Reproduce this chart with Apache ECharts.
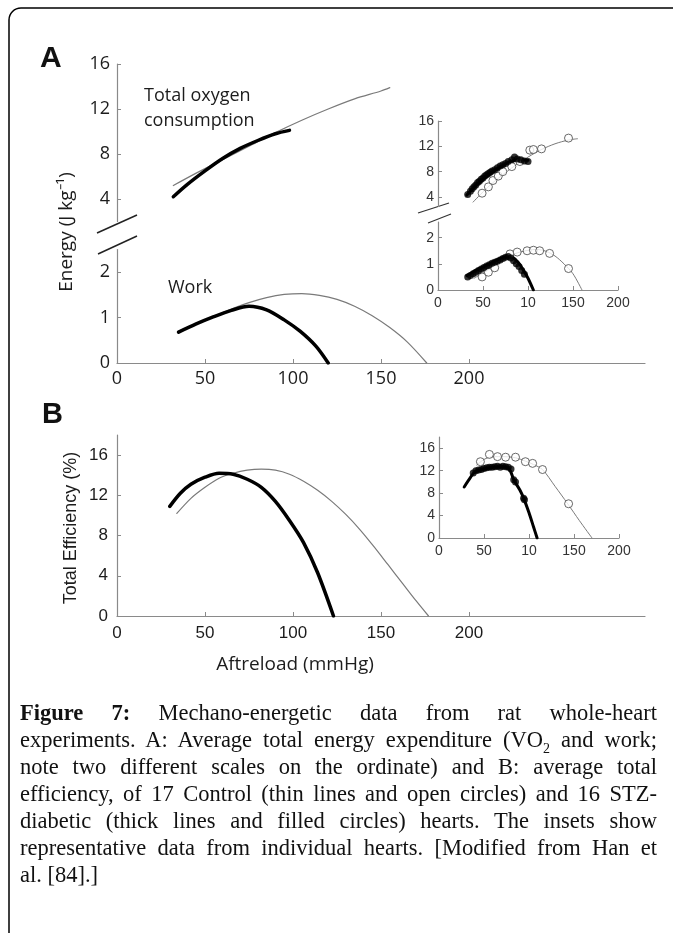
<!DOCTYPE html>
<html><head><meta charset="utf-8">
<script src="https://cdn.jsdelivr.net/npm/echarts@6/dist/echarts.min.js"></script>
<style>
html,body{margin:0;padding:0;background:#fff;}
#chart{position:absolute;left:0;top:0;width:673px;height:933px;}
#cap{position:absolute;left:20px;width:637px;top:699px;font-family:"Liberation Serif","Times New Roman",serif;font-size:22.5px;line-height:27px;color:#111;}
#cap div{white-space:nowrap;text-align:justify;text-align-last:justify;}
#cap div.last{text-align-last:left;}
</style></head>
<body>
<div id="chart"></div>
<div id="cap">
<div><b>Figure 7:</b> Mechano-energetic data from rat whole-heart</div>
<div>experiments. A: Average total energy expenditure (VO<sub style="font-size:14px;line-height:0">2</sub> and work;</div>
<div>note two different scales on the ordinate) and B: average total</div>
<div>efficiency, of 17 Control (thin lines and open circles) and 16 STZ-</div>
<div>diabetic (thick lines and filled circles) hearts. The insets show</div>
<div>representative data from individual hearts. [Modified from Han et</div>
<div class="last">al. [84].]</div>
</div>
<script>
// ---------- data (x = afterload mmHg) ----------
const xTicks = [0, 50, 100, 150, 200];
const energyUpperTicks = [4, 8, 12, 16];
const energyLowerTicks = [0, 1, 2];
const effTicks = [0, 4, 8, 12, 16];

// Panel A main: total oxygen consumption
const vo2Control = [[32,5.2],[45,6.3],[60,7.5],[75,8.7],[90,9.9],[105,11.0],[120,12.0],[135,12.9],[150,13.6],[155,13.9]];
const vo2Diabetic = [[32,4.2],[40,5.3],[50,6.5],[60,7.6],[70,8.5],[80,9.2],[90,9.8],[98,10.1]];
// Panel A main: work
const workControl = [[35,0.70],[45,0.87],[55,1.03],[65,1.19],[75,1.33],[85,1.44],[95,1.51],[105,1.53],[115,1.49],[125,1.40],[135,1.25],[145,1.04],[155,0.78],[165,0.46],[176,0]];
const workDiabetic = [[35,0.68],[45,0.86],[55,1.02],[65,1.16],[75,1.25],[85,1.17],[95,0.95],[104,0.70],[113,0.37],[120,0]];
// Panel B main: efficiency
const effControl = [[34,10.2],[42,11.7],[50,12.8],[58,13.7],[66,14.2],[74,14.5],[82,14.6],[90,14.5],[98,14.1],[106,13.4],[114,12.5],[122,11.4],[130,10.1],[138,8.6],[146,6.9],[154,5.1],[162,3.3],[170,1.5],[177,0]];
const effDiabetic = [[30,10.9],[36,12.2],[42,13.1],[50,13.8],[58,14.2],[66,14.1],[74,13.6],[82,12.8],[90,11.4],[98,9.5],[106,7.3],[114,4.3],[123,0]];

// Inset A (individual hearts)
const insetVo2ControlLine = [[39,3.2],[55,5.5],[70,7.3],[85,8.9],[100,10.3],[115,11.5],[130,12.4],[145,13.0],[155,13.2]];
const insetVo2DiabeticLine = [[32,4.3],[40,5.5],[50,6.8],[60,7.9],[70,8.8],[80,9.6],[90,9.9],[100,9.8]];
const insetVo2Open = [[49,4.6],[56,5.6],[61,6.6],[67,7.3],[72,8.0],[82,8.8],[91,9.6],[102,11.4],[106,11.5],[115,11.6],[145,13.3]];
const insetVo2Filled = [[33,4.4],[36,4.9],[38,5.3],[40,5.6],[42,5.9],[44,6.3],[46,6.5],[48,6.8],[50,7.0],[52,7.3],[54,7.5],[56,7.7],[58,7.9],[60,8.1],[63,8.3],[66,8.6],[69,8.9],[72,9.1],[75,9.3],[78,9.6],[82,9.9],[85,10.3],[88,10.0],[92,9.9],[96,9.7],[100,9.6]];
const insetWorkControlLine = [[40,0.45],[55,0.75],[70,1.10],[85,1.38],[100,1.52],[110,1.55],[120,1.48],[130,1.30],[140,1.00],[150,0.62],[160,0]];
const insetWorkDiabeticLine = [[32,0.55],[45,0.80],[60,1.05],[72,1.25],[80,1.28],[88,1.10],[95,0.75],[100,0.45],[106,0]];
const insetWorkOpen = [[49,0.5],[56,0.68],[63,0.85],[80,1.38],[88,1.45],[99,1.5],[106,1.52],[113,1.5],[124,1.4],[145,0.82]];
const insetWorkFilled = [[33,0.5],[36,0.55],[39,0.62],[42,0.68],[45,0.75],[48,0.8],[51,0.86],[54,0.92],[57,0.97],[60,1.02],[63,1.06],[66,1.1],[69,1.15],[72,1.2],[75,1.25],[78,1.28],[81,1.22],[84,1.12],[87,1.0],[90,0.9],[93,0.75],[96,0.6]];

// Inset B
const insetEffControlLine = [[42,13.0],[50,14.0],[60,14.5],[72,14.5],[85,14.3],[96,13.7],[105,13.1],[115,12.2],[129,9.2],[143,6.1],[156,3.1],[170,0]];
const insetEffDiabeticLine = [[28,9.1],[35,10.8],[40,11.8],[50,12.3],[60,12.6],[70,12.7],[78,12.3],[83,10.4],[90,8.5],[94,7.1],[100,4.5],[105,2.0],[109,0]];
const insetEffOpen = [[46,13.6],[56,14.9],[65,14.5],[74,14.4],[85,14.4],[96,13.6],[104,13.3],[115,12.2],[144,6.1]];
const insetEffFilled = [[38,11.6],[41,12.0],[44,12.1],[47,12.2],[50,12.4],[53,12.5],[56,12.6],[59,12.6],[62,12.7],[65,12.8],[68,12.6],[71,12.8],[74,12.7],[77,12.6],[80,12.3],[83,10.4],[85,10.0],[94,7.1],[95,6.8]];

// ---------- styling ----------
const AX = '#8a8a8a';
const TXT = '#1c1c1c';
const mainFontA = {fontFamily:'Open Sans', fontSize:18, color:TXT};
const mainFontB = {fontFamily:'Liberation Sans', fontSize:17, color:TXT};
const insetFont = {fontFamily:'Liberation Sans', fontSize:14, color:'#333'};

function xAxis(grid, show, font, max, margin, fmt){
  return {type:'value', gridIndex:grid, min:0, max:max, show:show,
    axisLine:{show:true, onZero:false, lineStyle:{color:AX, width:1.2}},
    axisTick:{show:true, inside:true, length:4, customValues:xTicks, lineStyle:{color:AX}},
    axisLabel:Object.assign({customValues:xTicks, margin:margin, formatter:fmt||(v=>String(v))}, font),
    splitLine:{show:false}};
}
function yAxis(grid, min, max, ticks, font, margin){
  return {type:'value', gridIndex:grid, min:min, max:max,
    axisLine:{show:true, onZero:false, lineStyle:{color:AX, width:1.2}},
    axisTick:{show:true, inside:true, length:4, customValues:ticks, lineStyle:{color:AX}},
    axisLabel:Object.assign({customValues:ticks, margin:margin}, font),
    splitLine:{show:false}};
}
function line(data, xi, thick, w){
  return {type:'line', xAxisIndex:xi, yAxisIndex:xi, data:data, smooth:0.3, showSymbol:false, silent:true,
    lineStyle:{color: thick ? '#000' : '#7a7a7a', width: w, cap:'round', join:'round'}, z: thick ? 3 : 2};
}
function pts(data, xi, filled){
  return {type:'scatter', xAxisIndex:xi, yAxisIndex:xi, data:data, symbol:'circle', symbolSize: filled ? 7 : 8, silent:true,
    itemStyle: filled ? {color:'#000'} : {color:'#fff', borderColor:'#444', borderWidth:1}, z: filled ? 5 : 4};
}

const chart = echarts.init(document.getElementById('chart'), null, {renderer:'canvas'});
const insetFmt = v => (v === 100 ? '10' : String(v));

chart.setOption({
  backgroundColor:'#fff',
  animation:false,
  grid:[
    {left:117, width:528, top:64,  height:157.5},  // 0 A upper
    {left:117, width:528, top:249.5, height:113.5}, // 1 A lower
    {left:117, width:528, top:435, height:181},    // 2 B
    {left:438, width:180, top:121, height:85.5},   // 3 inset A upper
    {left:438, width:180, top:222, height:68},     // 4 inset A lower
    {left:439, width:180, top:437, height:101}     // 5 inset B
  ],
  xAxis:[
    xAxis(0, false, mainFontA, 300, 8),
    xAxis(1, true,  mainFontA, 300, 7),
    xAxis(2, true,  mainFontB, 300, 9),
    xAxis(3, false, insetFont, 200, 6, insetFmt),
    xAxis(4, true,  insetFont, 200, 6, insetFmt),
    xAxis(5, true,  insetFont, 200, 6, insetFmt)
  ],
  yAxis:[
    yAxis(0, 2, 16, energyUpperTicks, mainFontA, 7),
    yAxis(1, 0, 2.5, energyLowerTicks, mainFontA, 7),
    yAxis(2, 0, 18, effTicks, mainFontB, 9),
    yAxis(3, 2.5, 16, energyUpperTicks, insetFont, 4),
    yAxis(4, 0, 2.6, energyLowerTicks, insetFont, 4),
    yAxis(5, 0, 18, effTicks, insetFont, 4)
  ],
  series:[
    line(vo2Control, 0, false, 1.2), line(vo2Diabetic, 0, true, 3.5),
    line(workControl, 1, false, 1.2), line(workDiabetic, 1, true, 3.5),
    line(effControl, 2, false, 1.2), line(effDiabetic, 2, true, 3.5),
    line(insetVo2ControlLine, 3, false, 1), line(insetVo2DiabeticLine, 3, true, 3),
    pts(insetVo2Open, 3, false), pts(insetVo2Filled, 3, true),
    line(insetWorkControlLine, 4, false, 1), line(insetWorkDiabeticLine, 4, true, 3),
    pts(insetWorkOpen, 4, false), pts(insetWorkFilled, 4, true),
    line(insetEffControlLine, 5, false, 1), line(insetEffDiabeticLine, 5, true, 3),
    pts(insetEffOpen, 5, false), pts(insetEffFilled, 5, true)
  ],
  graphic:[
    {type:'rect', shape:{x:9, y:8, width:720, height:1000, r:12}, style:{fill:'none', stroke:'#000', lineWidth:1.5}, silent:true},
    {type:'text', x:40, y:44, style:{text:'A', font:'bold 30px "Liberation Sans"', fill:'#111'}},
    {type:'text', x:42, y:400, style:{text:'B', font:'bold 29px "Liberation Sans"', fill:'#111'}},
    {type:'text', x:144, y:83, style:{text:'Total oxygen\nconsumption', font:'18px "Open Sans"', lineHeight:25, fill:TXT}},
    {type:'text', x:168, y:279, style:{text:'Work', font:'18px "Open Sans"', fill:TXT}},
    {type:'text', x:67, y:232, rotation:Math.PI/2, style:{text:'Energy (J kg\u207B\u00B9)', font:'19px "Open Sans"', fill:TXT, align:'center', verticalAlign:'middle'}},
    {type:'text', x:71, y:528, rotation:Math.PI/2, style:{text:'Total Efficiency (%)', font:'18px "Liberation Sans"', fill:TXT, align:'center', verticalAlign:'middle'}},
    {type:'text', x:295, y:665, style:{text:'Aftreload (mmHg)', font:'19px "Open Sans"', fill:TXT, align:'center', verticalAlign:'middle'}},
    // axis-break marks
    {type:'line', shape:{x1:97, y1:233, x2:137, y2:215}, style:{stroke:'#222', lineWidth:1.5}},
    {type:'line', shape:{x1:98, y1:254, x2:137, y2:236}, style:{stroke:'#222', lineWidth:1.5}},
    {type:'line', shape:{x1:418, y1:213, x2:449, y2:203}, style:{stroke:'#333', lineWidth:1.2}},
    {type:'line', shape:{x1:428, y1:223, x2:451, y2:214}, style:{stroke:'#333', lineWidth:1.2}}
  ]
});
</script>
</body></html>
